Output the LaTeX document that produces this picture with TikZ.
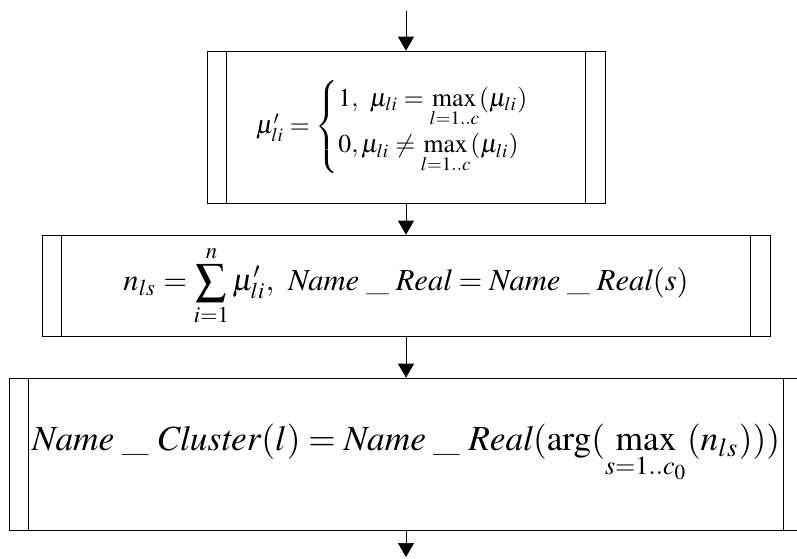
\documentclass[tikz,border=0pt]{standalone}
\usepackage{amsmath}
\usepackage{mathptmx}
\usetikzlibrary{arrows.meta}

\begin{document}
\begin{tikzpicture}[x=1pt,y=-1pt,
  procbox/.style={draw,rectangle,line width=0.7pt,inner sep=0pt},
  flow/.style={-{Triangle[length=14pt,width=16pt]},line width=0.7pt}]
\useasboundingbox (0,0) rectangle (797,558);
\node[procbox,minimum width=398pt,minimum height=152pt] (b1) at (406,127)
  {\resizebox{300pt}{!}{$\mu'_{li}=\begin{cases}1,\ \mu_{li}=\max\limits_{l=1..c}(\mu_{li})\\ 0,\mu_{li}\neq\max\limits_{l=1..c}(\mu_{li})\end{cases}$}};
\node[procbox,minimum width=728pt,minimum height=101pt] (b2) at (406,285.5)
  {\resizebox{565pt}{!}{$\displaystyle n_{ls}=\sum_{i=1}^{n}\mu'_{li},\ \mathit{Name}\;\_\;\mathit{Real}=\mathit{Name}\;\_\;\mathit{Real}(s)$}};
\node[procbox,minimum width=794pt,minimum height=152pt] (b3) at (406,454)
  {\resizebox{748pt}{!}{$\mathit{Name}\;\_\;\mathit{Cluster}(l)=\mathit{Name}\;\_\;\mathit{Real}(\arg(\max\limits_{s=1..c_0}(n_{ls})))$}};
\coordinate (top) at (406,11);
\coordinate (bot) at (406,557);

% side bars
\foreach \b in {b1,b2,b3} {
  \draw[line width=0.7pt] ([xshift=20pt]\b.north west) -- ([xshift=20pt]\b.south west);
  \draw[line width=0.7pt] ([xshift=-20pt]\b.north east) -- ([xshift=-20pt]\b.south east);
}
\foreach \i/\j in {top/b1,b1/b2,b2/b3,b3/bot} {
  \draw[flow] (\i) -- (\j);
}
\end{tikzpicture}
\end{document}
